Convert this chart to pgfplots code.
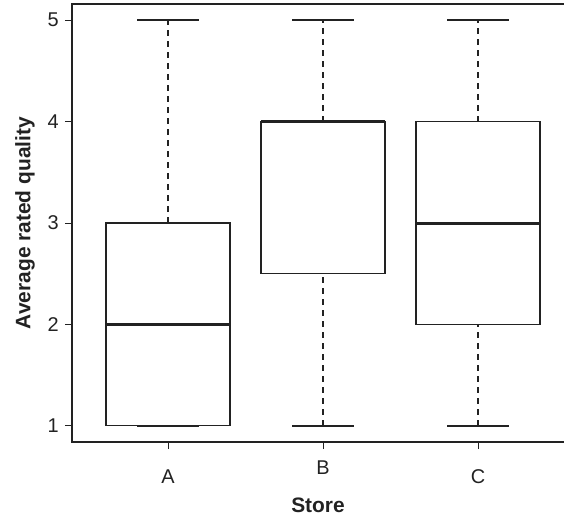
\documentclass[border=0pt]{standalone}
\usepackage{fontspec}
\setmainfont{Liberation Sans}
\usepackage{pgfplots}
\pgfplotsset{compat=1.18}
\usepgfplotslibrary{statistics}

\definecolor{frame}{HTML}{222222}

\begin{document}
\begin{tikzpicture}
\begin{axis}[
  name=ax,
  scale only axis, width=492bp, height=438bp,
  xmin=0.38, xmax=3.555, ymin=0.84, ymax=5.16,
  axis line style={draw=none},
  xtick={1,2,3},
  xticklabels={A,{\raisebox{9bp}[\height][\depth]{B}},C},
  ytick={1,2,3,4,5},
  tick align=outside, xtick pos=bottom, ytick pos=left,
  major tick length=7bp,
  tick style={frame, line width=1bp},
  ticklabel style={font=\fontsize{20}{24}\selectfont, text=frame},
  xticklabel style={anchor=base, inner sep=0pt, yshift=-34bp},
  yticklabel style={anchor=east, inner sep=0pt, xshift=-6bp},
  /pgf/number format/assume math mode=true,
  xlabel={Store}, ylabel={Average rated quality},
  label style={font=\bfseries\fontsize{21}{25}\selectfont, text=frame},
  xlabel style={at={(rel axis cs:0.5,0)}, anchor=center, yshift=-63bp},
  ylabel style={at={(rel axis cs:0,0.5)}, anchor=center, yshift=47bp},
  clip=false,
  boxplot/draw direction=y,
  boxplot/box extend=0.8,
  boxplot/whisker extend=0.4,
  boxplot/every median/.style={line width=3bp},
  boxplot/draw/lower whisker/.code={%
    \draw[dash pattern=on 6bp off 5bp]
      (boxplot cs:\pgfplotsboxplotvalue{lower whisker})
      -- (boxplot cs:\pgfplotsboxplotvalue{lower quartile});
    \draw[line width=2bp]
      (boxplot whisker cs:\pgfplotsboxplotvalue{lower whisker},0)
      -- (boxplot whisker cs:\pgfplotsboxplotvalue{lower whisker},1);
  },
  boxplot/draw/upper whisker/.code={%
    \draw[dash pattern=on 6bp off 5bp]
      (boxplot cs:\pgfplotsboxplotvalue{upper quartile})
      -- (boxplot cs:\pgfplotsboxplotvalue{upper whisker});
    \draw[line width=2bp]
      (boxplot whisker cs:\pgfplotsboxplotvalue{upper whisker},0)
      -- (boxplot whisker cs:\pgfplotsboxplotvalue{upper whisker},1);
  },
]
% Store A
\addplot[frame, line width=1.2bp, boxplot prepared={draw position=1,
  lower whisker=1, lower quartile=1, median=2,
  upper quartile=3, upper whisker=5}] coordinates {};
% Store B
\addplot[frame, line width=1.2bp, boxplot prepared={draw position=2,
  lower whisker=1, lower quartile=2.5, median=4,
  upper quartile=4, upper whisker=5}] coordinates {};
% Store C
\addplot[frame, line width=1.2bp, boxplot prepared={draw position=3,
  lower whisker=1, lower quartile=2, median=3,
  upper quartile=4, upper whisker=5}] coordinates {};

% open frame: left, bottom and top edges
\draw[frame, line width=1.3bp] (rel axis cs:1,1) -- (rel axis cs:0,1)
  -- (rel axis cs:0,0) -- (rel axis cs:1,0);
\end{axis}
\pgfresetboundingbox
\path ([shift={(-72bp,-75bp)}]ax.south west) rectangle ([shift={(0bp,4bp)}]ax.north east);
\end{tikzpicture}
\end{document}
